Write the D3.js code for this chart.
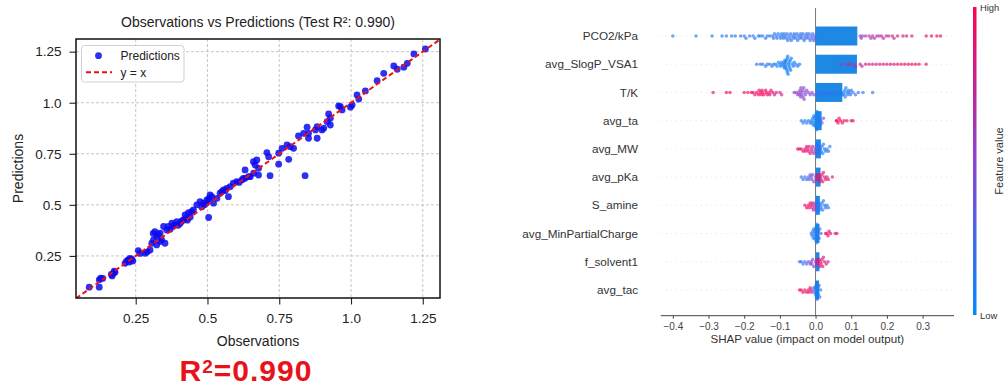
<!DOCTYPE html>
<html><head><meta charset="utf-8">
<script src="https://cdn.jsdelivr.net/npm/d3@7"></script>
<style>
body{margin:0;background:#fff}
svg{display:block}
text{font-family:"Liberation Sans",Arial,Helvetica,sans-serif}
</style>
</head><body>
<svg id="c" width="1007" height="387"></svg>
<script>
// ---------- Left chart data ----------
const observations = [0.088,0.123,0.123,0.128,0.135,0.165,0.172,0.168,0.178,0.175,
0.213,0.218,0.224,0.23,0.236,0.24,0.228,
0.259,0.265,0.283,0.29,0.30,0.306,0.312,
0.317,0.311,0.323,0.323,0.335,0.335,0.347,0.352,0.34,0.328,
0.358,0.364,0.376,0.387,0.393,0.405,0.416,0.422,0.434,0.445,0.451,0.38,0.41,0.43,0.44,0.398,0.37,0.425,
0.463,0.474,0.486,0.498,0.509,0.515,0.521,0.533,0.504,0.48,0.49,0.505,0.497,
0.544,0.556,0.567,0.579,0.573,0.55,0.562,
0.59,0.602,0.62,0.631,0.643,0.631,0.649,0.661,0.61,0.625,
0.66,0.666,0.672,0.678,0.678,0.707,0.713,0.718,
0.748,0.76,0.777,0.788,0.80,0.748,0.783,0.84,
0.817,0.835,0.847,0.852,0.852,0.882,0.876,0.882,0.899,0.905,
0.917,0.922,0.928,0.928,0.957,0.963,0.969,0.998,1.004,1.021,1.027,1.05,
1.091,1.114,1.149,1.161,1.184,1.196,1.219,1.259];
const predictions = [0.097,0.097,0.133,0.141,0.14,0.16,0.165,0.152,0.17,0.175,
0.214,0.225,0.23,0.238,0.234,0.225,0.22,
0.276,0.262,0.263,0.27,0.279,0.312,0.328,
0.369,0.36,0.345,0.304,0.361,0.32,0.394,0.312,0.33,0.355,
0.377,0.394,0.41,0.402,0.418,0.41,0.426,0.451,0.462,0.467,0.475,0.395,0.42,0.425,0.44,0.40,0.38,0.435,
0.50,0.516,0.508,0.524,0.549,0.54,0.508,0.532,0.438,0.49,0.50,0.53,0.51,
0.557,0.573,0.581,0.589,0.54,0.565,0.57,
0.606,0.614,0.622,0.63,0.638,0.671,0.638,0.655,0.61,0.63,
0.711,0.695,0.72,0.679,0.646,0.756,0.736,0.643,
0.753,0.777,0.793,0.785,0.777,0.699,0.723,0.643,
0.837,0.85,0.88,0.85,0.826,0.826,0.867,0.883,0.867,0.875,
0.907,0.945,0.924,0.891,0.984,0.981,0.965,0.978,0.989,1.038,1.018,1.058,
1.108,1.144,1.18,1.164,1.174,1.193,1.239,1.263];
const scatterTicks = [0.25,0.5,0.75,1.0,1.25];
const scatterTickLabels = ["0.25","0.5","0.75","1.0","1.25"];
const scatterTitle = "Observations vs Predictions (Test R\u00b2: 0.990)";

// ---------- Right chart data (SHAP) ----------
const features = ["PCO2/kPa","avg_SlogP_VSA1","T/K","avg_ta","avg_MW","avg_pKa","S_amine","avg_MinPartialCharge","f_solvent1","avg_tac"];
const meanAbsShap = [0.117,0.116,0.075,0.017,0.015,0.014,0.012,0.011,0.011,0.010];
const shapTicks = [-0.4,-0.3,-0.2,-0.1,0.0,0.1,0.2,0.3];

const shapPCO2 = [-0.40,-0.335,-0.29,-0.262,-0.25,-0.235,-0.225,-0.21,-0.2,-0.195,-0.185,-0.175,-0.17,-0.16,-0.155,-0.148,-0.14,-0.135,-0.128,-0.12,-0.115,-0.11,-0.105,-0.1,-0.098,-0.092,-0.088,-0.085,-0.08,-0.078,-0.072,-0.07,-0.065,-0.062,-0.058,-0.055,-0.05,-0.048,-0.045,-0.04,-0.038,-0.035,-0.03,-0.028,-0.025,-0.02,-0.018,-0.015,-0.01,-0.008,-0.005,
-0.118,-0.108,-0.095,-0.09,-0.082,-0.075,-0.068,-0.06,-0.052,-0.042,-0.032,-0.022,-0.012,-0.003,-0.001,
0.125,0.128,0.132,0.14,0.15,0.155,0.16,0.165,0.172,0.178,0.185,0.19,0.198,0.205,0.215,0.22,0.23,0.245,0.255,0.27,0.31,0.325,0.34,0.35];
const fvPCO2 = [.15,.1,.15,.1,.2,.15,.1,.2,.15,.1,.2,.15,.1,.2,.15,.1,.2,.1,.15,.2,.1,.15,.2,.1,.15,.2,.1,.15,.2,.1,.15,.2,.1,.25,.15,.1,.2,.15,.1,.2,.25,.15,.1,.2,.15,.3,.2,.1,.25,.15,.3,
.15,.2,.1,.15,.2,.1,.15,.25,.1,.2,.15,.3,.2,.35,.3,
.55,.6,.5,.6,.65,.6,.7,.65,.7,.6,.7,.75,.65,.7,.8,.75,.8,.85,.8,.85,.9,.95,.9,.95];

const shapSlogP = [-0.165,-0.155,-0.148,-0.14,-0.135,-0.128,-0.122,-0.118,-0.112,-0.108,-0.104,-0.1,-0.098,-0.095,-0.092,-0.09,-0.088,-0.086,-0.084,-0.082,-0.08,-0.079,-0.078,-0.076,-0.074,-0.072,-0.07,-0.068,-0.065,-0.062,-0.06,-0.055,-0.05,-0.045,
-0.087,-0.083,-0.081,-0.077,-0.073,-0.071,-0.085,-0.079,
0.07,0.085,0.095,0.105,0.112,0.125,0.13,0.14,0.15,0.16,0.17,0.18,0.19,0.2,0.21,0.22,0.23,0.24,0.25,0.26,0.27,0.28,0.29,0.31];
const fvSlogP = [.2,.15,.2,.1,.15,.1,.15,.1,.05,.1,.05,.1,.05,.1,.05,.1,.05,.1,.05,.1,.05,.1,.05,.1,.05,.1,.05,.1,.05,.1,.05,.1,.15,.1,
.1,.05,.1,.05,.1,.05,.1,.05,
.6,.65,.7,.6,.7,.75,.7,.8,.75,.85,.8,.85,.8,.9,.85,.9,.85,.9,.95,.9,.95,.9,.95,.9];

const shapTK = [-0.287,-0.25,-0.24,-0.2,-0.19,-0.18,-0.175,-0.17,-0.165,-0.16,-0.155,-0.15,-0.145,-0.14,-0.135,-0.13,-0.125,-0.12,-0.115,-0.11,-0.1,-0.095,
-0.158,-0.148,-0.138,-0.128,-0.152,
-0.06,-0.055,-0.05,-0.048,-0.045,-0.042,-0.04,-0.038,-0.035,-0.032,-0.03,-0.028,-0.025,-0.02,-0.015,-0.01,-0.005,
-0.044,-0.036,-0.041,-0.033,
0.005,0.01,0.015,0.02,0.025,0.03,0.035,0.04,0.045,0.05,0.055,0.06,0.065,0.07,0.075,0.08,0.082,0.085,0.088,0.092,0.095,0.1,0.105,0.112,0.12,0.133,0.16,
0.078,0.083,0.09,0.098];
const fvTK = [.9,.95,.9,.95,.9,1,.95,.9,1,.95,.9,.95,1,.9,.95,.85,.95,.9,.85,.9,.85,.8,
.95,.9,.95,.9,1,
.55,.5,.6,.5,.55,.5,.55,.45,.5,.55,.5,.45,.5,.55,.45,.5,.4,
.5,.55,.5,.45,
.2,.15,.1,.2,.15,.1,.2,.1,.15,.1,.2,.15,.1,.05,.1,.15,.1,.05,.1,.15,.1,.2,.15,.2,.25,.2,.25,
.1,.15,.1,.2];

const shapTa = [-0.04,-0.035,-0.03,-0.025,-0.02,-0.015,-0.012,-0.01,-0.008,-0.006,-0.005,-0.004,-0.003,-0.002,-0.001,0,0.001,0.002,0.003,0.004,0.005,0.008,0.01,0.012,0.015,0.018,0.022,
0.058,0.06,0.063,0.066,0.07,0.075,0.08,0.088,0.1,0.105];
const fvTa = [.2,.15,.1,.15,.1,.15,.1,.05,.1,.05,.1,.05,.1,.05,.1,.05,.1,.05,.1,.05,.15,.1,.15,.1,.2,.3,.5,
.95,1,.95,1,.95,.9,.95,.9,.85,.9];

const shapMW = [-0.05,-0.045,-0.04,-0.035,-0.03,-0.028,-0.025,-0.022,-0.02,-0.018,-0.015,-0.012,-0.01,-0.008,-0.005,-0.002,
0,0.002,0.003,0.004,0.006,0.008,0.01,0.012,0.014,0.016,0.018,0.02,0.022,0.025,0.028,0.032,0.036,0.04];
const fvMW = [.9,.95,.85,.9,.95,.9,.85,.95,.9,.8,.9,.85,.75,.8,.7,.5,
.3,.2,.4,.1,.15,.1,.2,.1,.15,.1,.2,.1,.15,.1,.15,.1,.2,.15];

const shapPKa = [-0.04,-0.035,-0.03,-0.025,-0.02,-0.018,-0.015,-0.012,-0.01,-0.008,-0.005,
0,0.002,0.004,0.006,0.008,0.01,0.012,0.014,0.016,0.018,0.02,0.022,0.025,0.028,0.032,0.036,0.047];
const fvPKa = [.2,.15,.25,.2,.3,.35,.4,.3,.45,.4,.5,
.6,.8,.9,.85,.95,.9,.85,.95,.8,.9,.85,.9,.8,.9,.85,.9,.75];

const shapSamine = [-0.03,-0.025,-0.02,-0.018,-0.015,-0.012,-0.01,-0.008,-0.006,-0.004,-0.002,
0,0.002,0.004,0.006,0.008,0.01,0.012,0.014,0.016,0.018,0.02,0.022,0.025,0.028,0.032,0.036];
const fvSamine = [.9,.95,.9,.85,.95,.9,.8,.9,.85,.75,.7,
.3,.2,.1,.15,.1,.2,.1,.15,.1,.05,.1,.15,.1,.15,.1,.2];

const shapMinPC = [-0.012,-0.01,-0.008,-0.006,-0.005,-0.004,-0.003,-0.002,-0.001,0,0.001,0.002,0.003,0.004,0.005,0.006,0.008,0.01,0.012,0.015,
0.028,0.032,0.035,0.038,0.042,0.055,0.06];
const fvMinPC = [.15,.1,.15,.1,.05,.1,.15,.1,.05,.1,.15,.1,.05,.1,.15,.1,.2,.15,.1,.3,
.9,.95,1,.95,.9,.85,.8];

const shapFsolv = [-0.045,-0.04,-0.035,-0.03,-0.025,-0.02,-0.015,-0.012,-0.01,-0.008,-0.005,
0,0.002,0.004,0.006,0.008,0.01,0.012,0.014,0.016,0.018,0.02,0.022,0.025,0.03,0.035];
const fvFsolv = [.2,.15,.25,.2,.3,.35,.4,.45,.5,.4,.55,
.6,.7,.8,.9,.85,.95,.9,.85,.9,.8,.9,.85,.8,.85,.75];

const shapTac = [-0.045,-0.04,-0.035,-0.03,-0.025,-0.02,-0.018,-0.015,-0.012,-0.01,
-0.005,-0.003,-0.002,-0.001,0,0.001,0.002,0.003,0.004,0.005,0.006,0.007,0.008,0.01,0.012,0.014];
const fvTac = [.95,.9,1,.95,.9,.95,.85,.9,.8,.75,
.3,.2,.1,.15,.1,.05,.1,.15,.1,.05,.1,.15,.1,.2,.15,.1];

const shapValues = [shapPCO2,shapSlogP,shapTK,shapTa,shapMW,shapPKa,shapSamine,shapMinPC,shapFsolv,shapTac];
const featureValues = [fvPCO2,fvSlogP,fvTK,fvTa,fvMW,fvPKa,fvSamine,fvMinPC,fvFsolv,fvTac];

// ---------- Drawing ----------
const svg = d3.select("#c");
const defs = svg.append("defs");

// ===== Left scatter =====
const L = {x0:76, x1:440, y0:39, y1:298};
const xS = d3.scaleLinear([0.042,1.31],[L.x0,L.x1]);
const yS = d3.scaleLinear([0.044,1.312],[L.y1,L.y0]);
const left = svg.append("g");

// grid
left.append("g").selectAll("line").data(scatterTicks).join("line")
  .attr("x1",d=>xS(d)).attr("x2",d=>xS(d)).attr("y1",L.y0).attr("y2",L.y1)
  .attr("stroke","#b8b8b8").attr("stroke-width",0.8).attr("stroke-dasharray","3,2");
left.append("g").selectAll("line").data(scatterTicks).join("line")
  .attr("y1",d=>yS(d)).attr("y2",d=>yS(d)).attr("x1",L.x0).attr("x2",L.x1)
  .attr("stroke","#b8b8b8").attr("stroke-width",0.8).attr("stroke-dasharray","3,2");

// points
defs.append("clipPath").attr("id","clipL").append("rect")
  .attr("x",L.x0).attr("y",L.y0).attr("width",L.x1-L.x0).attr("height",L.y1-L.y0);
left.append("g").selectAll("circle").data(observations).join("circle")
  .attr("cx",d=>xS(d)).attr("cy",(d,i)=>yS(predictions[i])).attr("r",3.4)
  .attr("fill","#0a0af0").attr("fill-opacity",0.85);

// y = x line
const dom = xS.domain();
left.append("line").attr("clip-path","url(#clipL)")
  .attr("x1",xS(dom[0])).attr("y1",yS(dom[0])).attr("x2",xS(dom[1])).attr("y2",yS(dom[1]))
  .attr("stroke","#ee1111").attr("stroke-width",2).attr("stroke-dasharray","5,3");

// axes
const fmt = (d)=>scatterTickLabels[scatterTicks.indexOf(d)];
const ax = left.append("g").attr("transform",`translate(0,${L.y1})`)
  .call(d3.axisBottom(xS).tickValues(scatterTicks).tickFormat(fmt).tickSize(6.5).tickPadding(9));
const ay = left.append("g").attr("transform",`translate(${L.x0},0)`)
  .call(d3.axisLeft(yS).tickValues(scatterTicks).tickFormat(fmt).tickSize(6.5).tickPadding(8));
[ax,ay].forEach(a=>{
  a.select(".domain").remove();
  a.selectAll("line").attr("stroke","#222").attr("stroke-width",1.1);
  a.selectAll("text").attr("font-size",13.5).attr("fill","#222").attr("font-family","Liberation Sans, Arial, sans-serif");
});
left.append("rect").attr("x",L.x0).attr("y",L.y0).attr("width",L.x1-L.x0).attr("height",L.y1-L.y0)
  .attr("fill","none").attr("stroke","#111").attr("stroke-width",1.5);

// title & labels
left.append("text").attr("x",(L.x0+L.x1)/2).attr("y",27).attr("text-anchor","middle")
  .attr("font-size",14).attr("fill","#222").text(scatterTitle);
left.append("text").attr("x",(L.x0+L.x1)/2).attr("y",346).attr("text-anchor","middle")
  .attr("font-size",14).attr("fill","#222").text("Observations");
left.append("text").attr("transform",`translate(23,${(L.y0+L.y1)/2}) rotate(-90)`).attr("text-anchor","middle")
  .attr("font-size",14).attr("fill","#222").text("Predictions");

// legend
const lg = left.append("g");
lg.append("rect").attr("x",81.5).attr("y",45.5).attr("width",102.5).attr("height",36.5).attr("rx",3)
  .attr("fill","#fff").attr("fill-opacity",0.85).attr("stroke","#d0d0d0").attr("stroke-width",1);
lg.append("circle").attr("cx",98.5).attr("cy",55.7).attr("r",3.4).attr("fill","#0a0af0").attr("fill-opacity",0.85);
lg.append("text").attr("x",120.5).attr("y",55.7).attr("dy","0.35em").attr("font-size",12).attr("fill","#222").text("Predictions");
lg.append("line").attr("x1",86).attr("x2",112).attr("y1",72.3).attr("y2",72.3)
  .attr("stroke","#ee1111").attr("stroke-width",2).attr("stroke-dasharray","5,3");
lg.append("text").attr("x",120.5).attr("y",72.3).attr("dy","0.35em").attr("font-size",12).attr("fill","#222").text("y = x");

// R² annotation
const r2 = svg.append("text").attr("x",246).attr("y",381).attr("text-anchor","middle")
  .attr("font-size",30).attr("font-weight","bold").attr("fill","#e8121a").attr("letter-spacing",1);
r2.append("tspan").text("R");
r2.append("tspan").attr("font-size",19).attr("dy",-8.5).text("2");
r2.append("tspan").attr("dy",8.5).text("=0.990");

// ===== Right SHAP summary =====
const R = {x0:660.7, x1:954, yAxis:315.7, top:8};
const sx = d3.scaleLinear([-0.434,0.388],[R.x0,R.x1]);
const rowY = d3.scalePoint(features,[36,290]);
const right = svg.append("g");

const color = d3.scaleLinear([0,0.5,1],["#008bfb","#8a45d6","#ff0052"]).interpolate(d3.interpolateRgb);

// row guide lines
right.append("g").selectAll("line").data(features).join("line")
  .attr("x1",R.x0).attr("x2",R.x1).attr("y1",d=>rowY(d)).attr("y2",d=>rowY(d))
  .attr("stroke","#cccccc").attr("stroke-width",0.6).attr("stroke-dasharray","1,4");

// zero line
right.append("line").attr("x1",sx(0)).attr("x2",sx(0)).attr("y1",R.top).attr("y2",R.yAxis)
  .attr("stroke","#777").attr("stroke-width",1);

// bars
const barH = 19;
right.append("g").selectAll("rect").data(features).join("rect")
  .attr("x",sx(0)).attr("y",d=>rowY(d)-barH/2)
  .attr("width",(d,i)=>sx(meanAbsShap[i])-sx(0)).attr("height",barH)
  .attr("fill","#1E88E5");

// beeswarm layout
function swarm(vals, binW, step, maxOff){
  const q = vals.map(v=>Math.round(v/binW));
  const idx = vals.map((v,i)=>i).sort((a,b)=> q[a]-q[b] || vals[a]-vals[b]);
  let layer=0, last=null; const ys = new Array(vals.length).fill(0);
  for(const i of idx){
    if(q[i]!==last) layer=0;
    ys[i] = Math.ceil(layer/2)*((layer%2)*2-1);
    layer++; last=q[i];
  }
  const m = d3.max(ys, y=>Math.abs(y)) || 1;
  const s = Math.min(step, maxOff/m);
  return ys.map(y=>y*s);
}
features.forEach((f,fi)=>{
  const vals = shapValues[fi], fvs = featureValues[fi];
  const offs = swarm(vals, 0.009, 2.3, 10);
  right.append("g").selectAll("circle").data(vals).join("circle")
    .attr("cx",d=>sx(d)).attr("cy",(d,i)=>rowY(f)+offs[i]).attr("r",1.75)
    .attr("fill",(d,i)=>color(fvs[i])).attr("fill-opacity",0.65);
});

// feature labels
right.append("g").selectAll("text").data(features).join("text")
  .attr("x",638).attr("y",d=>rowY(d)).attr("dy","0.35em").attr("text-anchor","end")
  .attr("font-size",11.7).attr("fill","#333").text(d=>d);

// x axis
const sAx = right.append("g").attr("transform",`translate(0,${R.yAxis})`)
  .call(d3.axisBottom(sx).tickValues(shapTicks).tickFormat(d=>d3.format(".1f")(d).replace("-","\u2212")).tickSize(3).tickPadding(4));
sAx.select(".domain").attr("d",`M${R.x0},0H${R.x1}`).attr("stroke","#444").attr("stroke-width",1);
sAx.selectAll(".tick line").attr("stroke","#444");
sAx.selectAll("text").attr("font-size",10).attr("fill","#444").attr("font-family","Liberation Sans, Arial, sans-serif");
right.append("text").attr("x",(R.x0+R.x1)/2).attr("y",343).attr("text-anchor","middle")
  .attr("font-size",11.6).attr("fill","#333").text("SHAP value (impact on model output)");

// colorbar
const grad = defs.append("linearGradient").attr("id","cbg")
  .attr("x1",0).attr("y1",1).attr("x2",0).attr("y2",0);
d3.range(0,1.0001,0.1).forEach(t=>grad.append("stop").attr("offset",t).attr("stop-color",color(t)));
right.append("rect").attr("x",973).attr("y",7).attr("width",3.5).attr("height",308).attr("fill","url(#cbg)");
right.append("text").attr("x",980).attr("y",8).attr("dy","0.35em").attr("font-size",9.4).attr("fill","#333").text("High");
right.append("text").attr("x",980).attr("y",316).attr("dy","0.35em").attr("font-size",9.4).attr("fill","#333").text("Low");
right.append("text").attr("transform",`translate(999,161) rotate(-90)`).attr("text-anchor","middle")
  .attr("dy","0.35em").attr("font-size",11).attr("fill","#333").text("Feature value");
</script>
</body></html>
